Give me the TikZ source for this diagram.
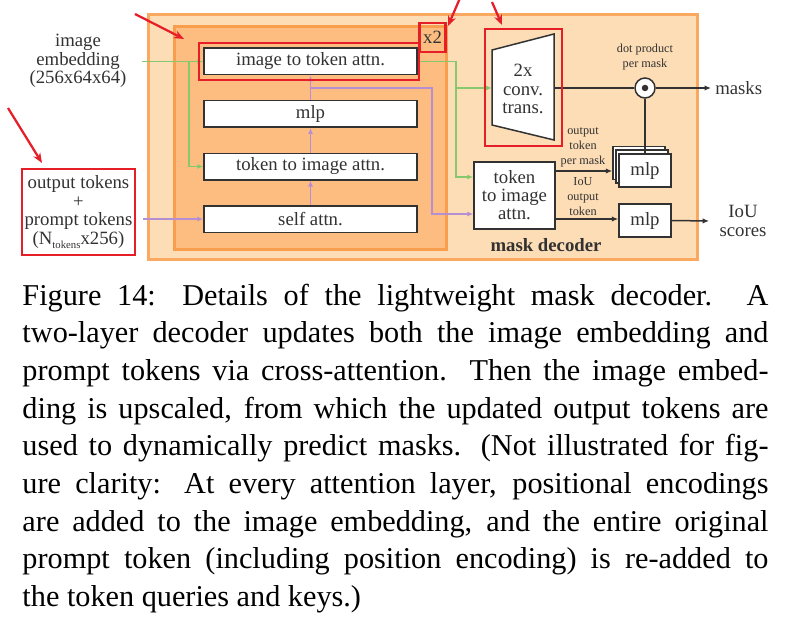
\documentclass[tikz,border=0pt]{standalone}
\usepackage{fontspec}
\setmainfont{Liberation Serif}
\usepackage{xcolor}
\usepackage{tikz}
\usetikzlibrary{arrows.meta,calc,positioning}
\definecolor{outerfill}{RGB}{253,221,182}
\definecolor{outerline}{RGB}{251,168,96}
\definecolor{innerfill}{RGB}{253,189,128}
\definecolor{innerline}{RGB}{249,158,78}
\definecolor{imgline}{RGB}{134,200,110}
\definecolor{tokline}{RGB}{182,142,212}
\definecolor{boxline}{RGB}{50,50,50}
\definecolor{markred}{RGB}{230,30,40}
\newcommand{\lbl}{\fontsize{7.5}{7.4}\selectfont}
\newcommand{\smalllbl}{\fontsize{4.9}{6}\selectfont}
\newcommand{\capfont}{\fontsize{12.1}{15.08}\selectfont}
\tikzstyle{line}=[draw]
\tikzstyle{blk}=[draw=boxline,line width=0.6pt,fill=white,inner sep=0pt,font=\lbl,text=boxline]
\tikzstyle{wideblk}=[blk,minimum width=85.2pt,minimum height=10.6pt]
\tikzstyle{mlpblk}=[blk,minimum width=20.8pt,minimum height=13.2pt]
\tikzstyle{imgarrow}=[draw=imgline,line width=0.45pt,-{Latex[length=2.4pt,width=2pt]}]
\tikzstyle{tokarrow}=[draw=tokline,line width=0.45pt,-{Latex[length=2.4pt,width=2pt]}]
\tikzstyle{darkline}=[draw=boxline,line width=0.6pt]
\tikzstyle{darkarrow}=[darkline,-{Latex[length=2.6pt,width=2.2pt]}]
\tikzstyle{redmark}=[draw=markred,line width=1pt]
\tikzstyle{redarrow}=[draw=markred,line width=0.9pt,-{Stealth[length=4pt,width=3.2pt]}]

\begin{document}
\begin{tikzpicture}[x=0.4pt,y=-0.4pt,font=\lbl,text=boxline]
\useasboundingbox (0,0) rectangle (790,625);
% panels
\draw [draw=outerline,fill=outerfill,line width=1.2pt] (148,15) rectangle (697,259);
\draw [draw=innerline,fill=innerfill,line width=1.2pt] (174,27) rectangle (446,249);
% two-way transformer
\node[wideblk](itt) at (310.5,61.5) {image to token attn.};
\node[wideblk,below=9.8pt of itt](mlpa) {mlp};
\node[wideblk,below=9.8pt of mlpa](tti) {token to image attn.};
\node[wideblk,below=9.8pt of tti](selfatt) {self attn.};
\node[](emb) at (78,61) [align=center] {image\\embedding\\(256x64x64)};
\node[draw=markred,line width=1pt,align=center,minimum width=45.2pt,minimum height=34.4pt,inner sep=1pt](toks) at (78.5,212)
  {output tokens\\+\\prompt tokens\\(N\raisebox{-1.5pt}{\fontsize{4.3}{4.3}\selectfont tokens}x256)};
% right part
\node[blk,minimum width=32.4pt,minimum height=26.8pt,align=center,font=\fontsize{7.5}{7.2}\selectfont](tti2) at (514.5,195.5) {token\\to image\\attn.};
\draw [line,boxline,fill=white,line width=0.6pt] (492,50) -- (554,34) -- (554,140) -- (492,125) -- cycle;
\node[align=center,font=\fontsize{7.5}{7.5}\selectfont](conv) at (523,89) {2x\\conv.\\trans.};
\coordinate (convin) at (492,88);
\coordinate (convout) at (554,88);
\node[circle,draw=boxline,fill=white,line width=0.6pt,minimum size=8pt,inner sep=0pt](dot) at (645,88) {};
\fill[boxline] (dot) circle (1.3pt);
\node[align=center,font=\smalllbl](dotlbl) at (645,57) {dot product\\per mask};
\node[anchor=west,inner sep=1.5pt](masks) at (711,88) {masks};
\node[mlpblk](mlpm3) at (639,163) {};
\node[mlpblk](mlpm2) at (642,166.5) {};
\node[mlpblk](mlpm) at (645,170.5) {mlp};
\node[mlpblk](mlpi) at (645,220.5) {mlp};
\node[align=center,inner sep=4pt](scores) at (743,221) {IoU\\scores};
\node[align=center,font=\smalllbl](permask) at (583,147) {output\\token\\per mask};
\node[align=center,font=\smalllbl](ioulbl) at (583,197) {IoU\\output\\token};
\node[font=\lbl\bfseries](decoder) at (546,245) {mask decoder};
% image embedding path
\coordinate (embout) at (142,61.5);
\coordinate (imgsplit) at (189,61.5);
\coordinate (imgdown) at (456,61.5);
\coordinate (imgin) at ([yshift=7.4pt]tti2.west);
\draw [imgarrow] (embout) -- (itt.west);
\draw [imgarrow] (imgsplit) |- (tti.west);
\draw [imgarrow] (itt.east) -- (imgdown) |- (imgin);
\draw [imgarrow] (imgdown |- convin) -- (convin);
% token path
\coordinate (toksplit) at (310.5,88);
\coordinate (tokturn) at (432,88);
\coordinate (tokin) at ([yshift=-7.4pt]tti2.west);
\draw [tokarrow,shorten <=2.8pt] (toks.east |- selfatt.west) -- (selfatt.west);
\draw [tokarrow] (selfatt.north) -- (tti.south);
\draw [tokarrow] (tti.north) -- (mlpa.south);
\draw [tokarrow] (mlpa.north) -- (itt.south);
\draw [tokarrow] (toksplit) -- (tokturn) |- (tokin);
% heads
\coordinate (tokout) at ([yshift=9.8pt]tti2.east);
\coordinate (iouout) at ([yshift=-9.4pt]tti2.east);
\draw [darkline] (convout) -- (dot.west);
\draw [darkarrow] (dot.east) -- (masks.west);
\draw [darkline] (dot.south) -- (mlpm.north);
\draw [darkarrow] (tokout) -- (tokout -| mlpm3.west);
\draw [darkarrow] (iouout) -- (iouout -| mlpi.west);
\draw [darkarrow] (mlpi.east) -- (scores.west);
% red marks
\draw [redmark] (199,43) rectangle (419,80);
\draw [redmark] (485,29) rectangle (562,146);
\node[draw=markred,line width=1pt,minimum width=10.4pt,minimum height=11.6pt,inner sep=0pt](rep) at (432.5,37.5) {x2};
\draw [redarrow] (135,14) -- (184,39);
\draw [redarrow] (8,108) -- (42,163);
\draw [redarrow] (460,-2) -- (448,26);
\draw [redarrow] (492,2) -- (502,25);
% caption
\node[anchor=base west,inner sep=0pt,text width=298.4pt,align=justify,font=\capfont,text=black](caption) at (22,305) {%
Figure 14: Details of the lightweight mask decoder. A\linebreak
two-layer decoder updates both the image embedding and\linebreak
prompt tokens via cross-attention. Then the image embed-\linebreak
ding is upscaled, from which the updated output tokens are\linebreak
used to dynamically predict masks. (Not illustrated for fig-\linebreak
ure clarity: At every attention layer, positional encodings\linebreak
are added to the image embedding, and the entire original\linebreak
prompt token (including position encoding) is re-added to\linebreak
the token queries and keys.)};
\end{tikzpicture}
\end{document}
